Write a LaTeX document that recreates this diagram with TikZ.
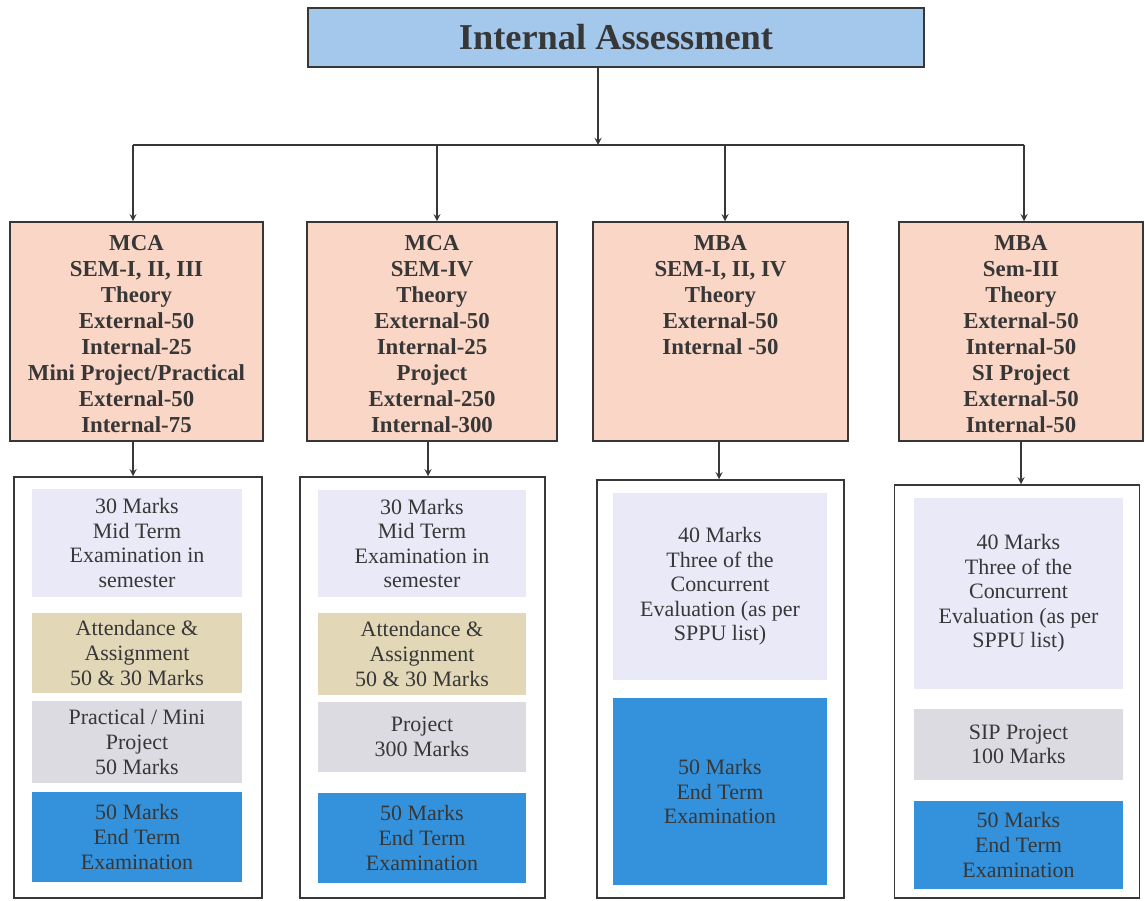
\documentclass[tikz,border=0pt]{standalone}
\usepackage{fontspec}
\setmainfont{LiberationSerif}[Extension=.ttf, UprightFont=*-Regular, BoldFont=*-Bold, ItalicFont=*-Italic, BoldItalicFont=*-BoldItalic]

\definecolor{titleblue}{RGB}{164,199,236}
\definecolor{headpink}{RGB}{250,214,198}
\definecolor{midlav}{RGB}{233,233,248}
\definecolor{attantan}{RGB}{226,215,182}
\definecolor{projgrey}{RGB}{221,219,226}
\definecolor{endblue}{RGB}{52,146,220}
\definecolor{inkgrey}{RGB}{55,55,55}

\tikzstyle{link} = [draw=inkgrey,line width=0.8pt,-]
\tikzstyle{arrowdecorate}=[->,>=stealth,draw=inkgrey,line width=0.8pt]
\tikzstyle{titlebox}=[draw=inkgrey,line width=0.9pt,fill=titleblue,text=inkgrey,font=\fontsize{20.7}{24}\selectfont\bfseries]
\tikzstyle{headbox}=[draw=inkgrey,line width=0.9pt,fill=headpink]
\tikzstyle{headtext}=[font=\fontsize{13}{14.8}\selectfont\bfseries,text=inkgrey,align=center,inner sep=0pt]
\tikzstyle{outerbox}=[draw=inkgrey,line width=0.9pt,fill=white]
\tikzstyle{markbox}=[font=\fontsize{12.5}{14}\selectfont,text=inkgrey,align=center,inner sep=0pt]

\begin{document}
\begin{tikzpicture}[x=0.02cm,y=-0.02cm]
  \useasboundingbox (0,0) rectangle (1145,901);

  %title
  \node[titlebox, minimum width=12.32cm, minimum height=1.18cm] (title) at (616,37.5) {Internal Assessment};
  \coordinate (hub) at (598,145);
  \foreach \name/\x in {bus1/133, bus2/437, bus3/725, bus4/1024}
    \coordinate (\name) at (\x,145);

  %programme boxes
  \foreach \name/\x/\w/\lines in {
    p1/136.5/5.06/{MCA\\SEM-I, II, III\\Theory\\External-50\\Internal-25\\Mini Project/Practical\\External-50\\Internal-75},
    p2/432/5.0/{MCA\\SEM-IV\\Theory\\External-50\\Internal-25\\Project\\External-250\\Internal-300},
    p3/720.5/5.1/{MBA\\SEM-I, II, IV\\Theory\\External-50\\Internal -50},
    p4/1021/4.88/{MBA\\Sem-III\\Theory\\External-50\\Internal-50\\SI Project\\External-50\\Internal-50}}
  {
    \node[headbox, minimum width=\w cm, minimum height=4.38cm] (\name) at (\x,331.5) {};
    \node[headtext, below=0.27cm] at (\name.north) {\lines};
  };

  %outer boxes
  \foreach \name/\x/\y/\w/\h in {
    w1/138/687.5/4.96/8.42, w2/422.5/687.5/4.9/8.42,
    w3/720.5/689/4.94/8.36, w4/1017/691.5/4.9/8.26}
  {
    \node[outerbox, minimum width=\w cm, minimum height=\h cm] (\name) at (\x,\y) {};
  };

  %mark boxes
  \foreach \name/\x/\y/\w/\h/\boxfill/\lines in {
    m11/137/543/4.2/2.16/midlav/{30 Marks\\Mid Term\\Examination in\\semester},
    m12/137/653/4.2/1.6/attantan/{Attendance \&\\Assignment\\50 \& 30 Marks},
    m13/137/742/4.2/1.64/projgrey/{Practical / Mini\\Project\\50 Marks},
    m14/137/837/4.2/1.8/endblue/{50 Marks\\End Term\\Examination},
    m21/422/543.5/4.16/2.14/midlav/{30 Marks\\Mid Term\\Examination in\\semester},
    m22/422/654/4.16/1.64/attantan/{Attendance \&\\Assignment\\50 \& 30 Marks},
    m23/422/737/4.16/1.4/projgrey/{Project\\300 Marks},
    m24/422/838/4.16/1.8/endblue/{50 Marks\\End Term\\Examination},
    m31/720/586.5/4.28/3.74/midlav/{40 Marks\\Three of the\\Concurrent\\Evaluation (as per\\SPPU list)},
    m32/720/791.5/4.28/3.74/endblue/{50 Marks\\End Term\\Examination},
    m41/1018.5/593.5/4.18/3.82/midlav/{40 Marks\\Three of the\\Concurrent\\Evaluation (as per\\SPPU list)},
    m42/1018.5/744.5/4.18/1.42/projgrey/{SIP Project\\100 Marks},
    m43/1018.5/845/4.18/1.76/endblue/{50 Marks\\End Term\\Examination}}
  {
    \node[markbox, fill=\boxfill, minimum width=\w cm, minimum height=\h cm] (\name) at (\x,\y) {\lines};
  };

  %edges
  \draw[arrowdecorate] (title.south -| hub) -- (hub);
  \draw[link] (bus1) -- (bus4);
  \foreach \i in {1,...,4}
    \draw[arrowdecorate] (bus\i) -- (bus\i |- p\i.north);
  \foreach \i/\dx in {1/-5, 2/5.5, 3/-1.5, 4/4}
    \draw[arrowdecorate] ([xshift=\dx*0.02cm]w\i.north |- p\i.south) -- ([xshift=\dx*0.02cm]w\i.north);
\end{tikzpicture}
\end{document}
